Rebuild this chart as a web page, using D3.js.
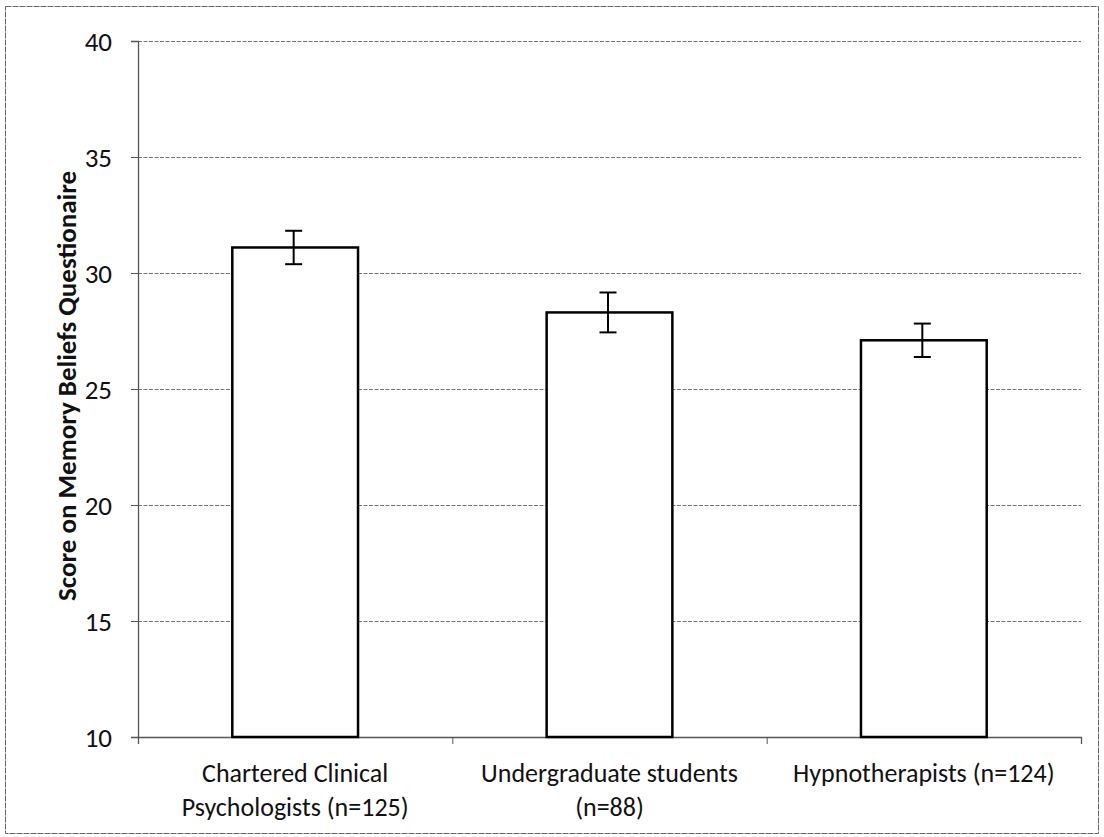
<!DOCTYPE html>
<html>
<head>
<meta charset="utf-8">
<script src="https://cdn.jsdelivr.net/npm/d3@7"></script>
<style>
  html, body { margin: 0; padding: 0; background: #fff; }
  svg { display: block; }
  text { font-family: Carlito, Lato, "Open Sans", sans-serif; fill: #111; }
</style>
</head>
<body>
<svg id="chart" width="1104" height="837"></svg>
<script>
const categories = [
  ["Chartered Clinical", "Psychologists (n=125)"],
  ["Undergraduate students", "(n=88)"],
  ["Hypnotherapists (n=124)"]
];
const means = [31.1, 28.3, 27.1];
const errors = [0.72, 0.86, 0.72];
const yTicks = [10, 15, 20, 25, 30, 35, 40];
const yTitle = "Score on Memory Beliefs Questionaire";

const svg = d3.select("#chart");
const W = 1104, H = 837;
const m = { left: 138, right: 1104 - 1081, top: 41, bottom: 837 - 737 };
const iw = W - m.left - m.right, ih = H - m.top - m.bottom;

// outer frame
svg.append("rect")
  .attr("x", 5.5).attr("y", 6.5).attr("width", W - 11).attr("height", H - 10)
  .attr("fill", "none").attr("stroke", "#666").attr("stroke-width", 1)
  .attr("stroke-dasharray", "6,1");

const g = svg.append("g").attr("transform", `translate(${m.left},${m.top})`);

const idx = categories.map((d, i) => i);
const x = d3.scaleBand().domain(idx).range([0, iw]).paddingInner(0.6).paddingOuter(0.3);
const xl = d3.scaleLinear().domain([0, categories.length]).range([0, iw]);
const y = d3.scaleLinear().domain([10, 40]).range([ih, 0]);

// gridlines
g.append("g").selectAll("line").data(yTicks.filter(t => t > 10)).join("line")
  .attr("x1", 0).attr("x2", iw)
  .attr("y1", d => y(d) + 0.5).attr("y2", d => y(d) + 0.5)
  .attr("stroke", "#777").attr("stroke-width", 1).attr("stroke-dasharray", "4,1.5");

// y axis
const ya = g.append("g").call(d3.axisLeft(y).tickValues(yTicks).tickSize(7).tickPadding(19));
ya.attr("font-size", 27);
ya.select(".domain").attr("stroke", "#555").attr("stroke-width", 1.3);
ya.selectAll(".tick line").attr("stroke", "#555");
ya.selectAll(".tick text").attr("font-size", 27).attr("fill", "#111").attr("dy", "0.36em")
  .style("font-family", "Carlito, Lato, 'Open Sans', sans-serif");

// x axis (category boundaries)
const xa = g.append("g").attr("transform", `translate(0,${ih})`)
  .call(d3.axisBottom(xl).tickValues(d3.range(categories.length + 1)).tickSize(7).tickFormat(""));
xa.select(".domain").attr("stroke", "#555").attr("stroke-width", 1.3);
xa.selectAll(".tick line").attr("stroke", "#555");

// category labels
const lab = g.append("g");
categories.forEach((lines, i) => {
  const cx = xl(i + 0.5);
  const t = lab.append("text").attr("text-anchor", "middle").attr("font-size", 26);
  lines.forEach((ln, j) => {
    t.append("tspan").attr("x", cx).attr("y", ih + 45 + j * 34).text(ln);
  });
});

// bars
g.append("g").selectAll("rect").data(means).join("rect")
  .attr("x", (d, i) => x(i))
  .attr("y", d => y(d))
  .attr("width", x.bandwidth())
  .attr("height", d => ih - y(d))
  .attr("fill", "#fff").attr("stroke", "#000").attr("stroke-width", 2.5);

// error bars
const eb = g.append("g").attr("stroke", "#000").attr("stroke-width", 2);
means.forEach((mv, i) => {
  const cx = x(i) + x.bandwidth() / 2 - 1.5;
  eb.append("line").attr("x1", cx).attr("x2", cx).attr("y1", y(mv + errors[i])).attr("y2", y(mv - errors[i]));
  [mv + errors[i], mv - errors[i]].forEach(v => {
    eb.append("line").attr("x1", cx - 8.5).attr("x2", cx + 8.5).attr("y1", y(v)).attr("y2", y(v));
  });
});

// y title
svg.append("text")
  .attr("transform", `translate(76,386) rotate(-90)`)
  .attr("text-anchor", "middle").attr("font-size", 27).attr("font-weight", "bold")
  .text(yTitle);
</script>
</body>
</html>
